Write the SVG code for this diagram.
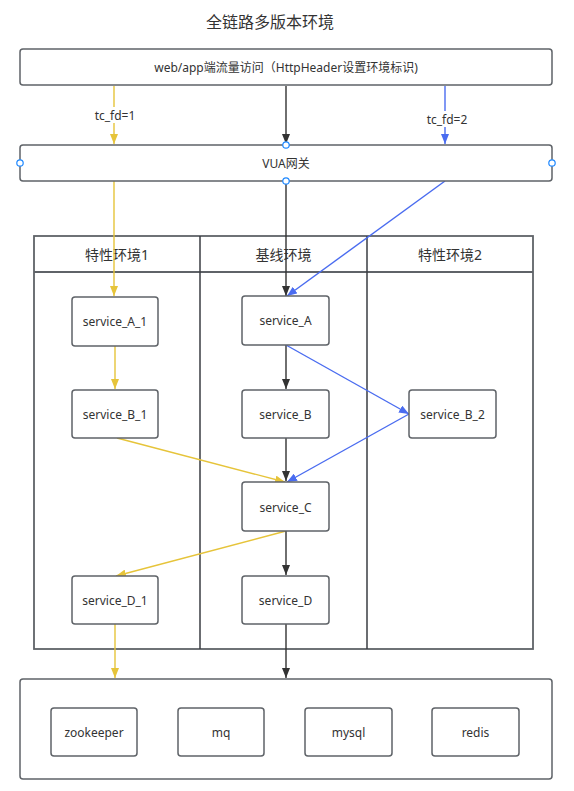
<svg xmlns="http://www.w3.org/2000/svg" width="574" height="791" viewBox="0 0 574 791">
<style>
text{font-family:"Noto Sans","Noto Sans CJK SC",sans-serif;fill:#333;text-anchor:middle;dominant-baseline:central}
.t{font-size:12px}
.h{font-size:14px}
.box{fill:#fff;stroke:#5f6368;stroke-width:1.5}
.lane{fill:none;stroke:#5f6368;stroke-width:1.8}
.div{stroke:#3a3d42;stroke-width:1.5}
.k{fill:none;stroke:#333;stroke-width:1.4}
.y{fill:none;stroke:#e6c43a;stroke-width:1.4}
.b{fill:none;stroke:#4a6cf0;stroke-width:1.4}
.pt{fill:#fff;stroke:#1e88ff;stroke-width:1.2}
</style>
<defs>
<marker id="ak" viewBox="0 0 10 8" refX="10" refY="4" markerWidth="10" markerHeight="8" markerUnits="userSpaceOnUse" orient="auto"><path d="M0,0L10,4L0,8z" fill="#333"/></marker>
<marker id="ay" viewBox="0 0 10 8" refX="10" refY="4" markerWidth="10" markerHeight="8" markerUnits="userSpaceOnUse" orient="auto"><path d="M0,0L10,4L0,8z" fill="#e6c43a"/></marker>
<marker id="ab" viewBox="0 0 10 8" refX="10" refY="4" markerWidth="10" markerHeight="8" markerUnits="userSpaceOnUse" orient="auto"><path d="M0,0L10,4L0,8z" fill="#4a6cf0"/></marker>
</defs>
<rect width="574" height="791" fill="#fff"/>
<text x="270" y="22" style="font-size:16px">全链路多版本环境</text>

<g id="lanes">
<rect class="lane" x="34" y="236" width="499" height="413"/>
<line class="lane" x1="34" y1="272" x2="533" y2="272"/>
<line class="div" x1="200" y1="236" x2="200" y2="649"/>
<line class="div" x1="367" y1="236" x2="367" y2="649"/>
<text class="h" x="117" y="254">特性环境1</text>
<text class="h" x="283.5" y="254">基线环境</text>
<text class="h" x="450" y="254">特性环境2</text>
</g>

<g id="connectors">
<line class="y" x1="114" y1="86" x2="114" y2="144" marker-end="url(#ay)"/>
<line class="k" x1="286" y1="86" x2="286" y2="144" marker-end="url(#ak)"/>
<line class="b" x1="445" y1="86" x2="445" y2="144" marker-end="url(#ab)"/>
<line class="y" x1="114" y1="181" x2="114" y2="296" marker-end="url(#ay)"/>
<line class="k" x1="286" y1="181" x2="286" y2="296" marker-end="url(#ak)"/>
<line class="b" x1="445" y1="181" x2="287" y2="296" marker-end="url(#ab)"/>
<line class="y" x1="115" y1="346" x2="115" y2="389" marker-end="url(#ay)"/>
<line class="k" x1="286" y1="345" x2="286" y2="389" marker-end="url(#ak)"/>
<line class="b" x1="286" y1="345" x2="409" y2="414" marker-end="url(#ab)"/>
<line class="y" x1="117" y1="438" x2="285" y2="482" marker-end="url(#ay)"/>
<line class="k" x1="286" y1="438" x2="286" y2="481" marker-end="url(#ak)"/>
<line class="b" x1="409" y1="414" x2="287" y2="482" marker-end="url(#ab)"/>
<line class="y" x1="286" y1="531" x2="116" y2="576" marker-end="url(#ay)"/>
<line class="k" x1="286" y1="531" x2="286" y2="575" marker-end="url(#ak)"/>
<line class="y" x1="115" y1="624" x2="115" y2="678" marker-end="url(#ay)"/>
<line class="k" x1="286" y1="624" x2="286" y2="678" marker-end="url(#ak)"/>
<rect x="92" y="107" width="46" height="16" fill="#fff"/>
<text class="t" x="115" y="115">tc_fd=1</text>
<rect x="424" y="111" width="46" height="16" fill="#fff"/>
<text class="t" x="447" y="119">tc_fd=2</text>
</g>

<g id="client">
<rect class="box" x="20" y="49" width="532" height="36" rx="3"/>
<text class="t" x="286" y="67">web/app端流量访问（HttpHeader设置环境标识)</text>
</g>

<g id="gateway">
<rect class="box" x="20" y="145" width="532" height="36" rx="3"/>
<text class="t" x="286" y="163">VUA网关</text>
<circle class="pt" cx="286" cy="145" r="3.2"/>
<circle class="pt" cx="20" cy="163" r="3.2"/>
<circle class="pt" cx="552" cy="163" r="3.2"/>
<circle class="pt" cx="286" cy="181" r="3.2"/>
</g>

<g id="service_A_1"><rect class="box" x="72" y="297" width="86" height="49" rx="3"/><text class="t" x="115" y="321.5">service_A_1</text></g>
<g id="service_A"><rect class="box" x="242" y="296" width="87" height="49" rx="3"/><text class="t" x="285.5" y="320.5">service_A</text></g>
<g id="service_B_1"><rect class="box" x="72" y="390" width="86" height="48" rx="3"/><text class="t" x="115" y="414">service_B_1</text></g>
<g id="service_B"><rect class="box" x="242" y="390" width="87" height="48" rx="3"/><text class="t" x="285.5" y="414">service_B</text></g>
<g id="service_B_2"><rect class="box" x="409" y="390" width="87" height="48" rx="3"/><text class="t" x="452.5" y="414.5">service_B_2</text></g>
<g id="service_C"><rect class="box" x="242" y="482" width="87" height="49" rx="3"/><text class="t" x="285.5" y="507">service_C</text></g>
<g id="service_D_1"><rect class="box" x="72" y="576" width="86" height="48" rx="3"/><text class="t" x="115" y="600.5">service_D_1</text></g>
<g id="service_D"><rect class="box" x="242" y="576" width="87" height="48" rx="3"/><text class="t" x="285.5" y="600.5">service_D</text></g>

<g id="infra">
<rect class="box" x="20" y="679" width="532" height="100" rx="3"/>
</g>
<g id="zookeeper"><rect class="box" x="51" y="708" width="86" height="48" rx="3"/><text class="t" x="94" y="732">zookeeper</text></g>
<g id="mq"><rect class="box" x="178" y="708" width="86" height="48" rx="3"/><text class="t" x="221" y="732">mq</text></g>
<g id="mysql"><rect class="box" x="305" y="708" width="87" height="48" rx="3"/><text class="t" x="348.5" y="732">mysql</text></g>
<g id="redis"><rect class="box" x="432" y="708" width="87" height="48" rx="3"/><text class="t" x="475.5" y="732">redis</text></g>
</svg>
